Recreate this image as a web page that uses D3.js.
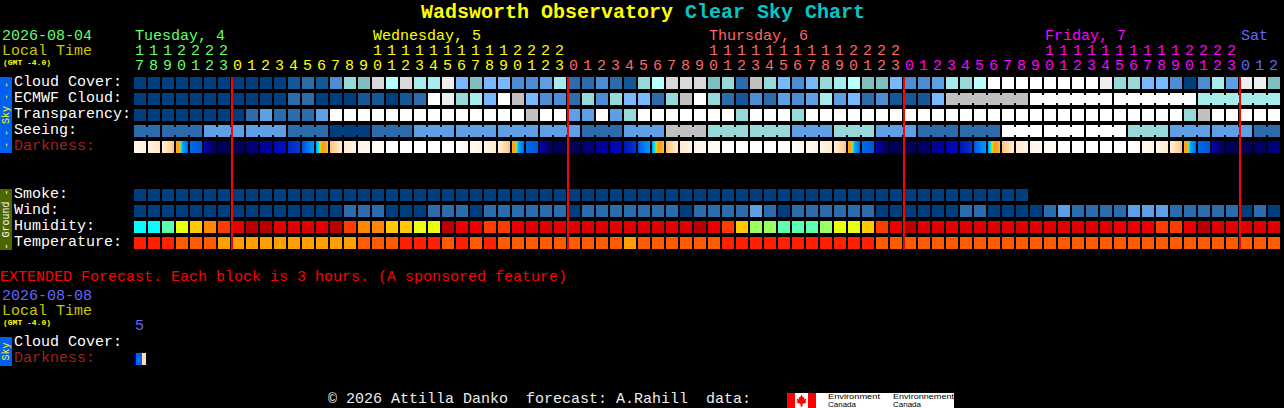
<!DOCTYPE html>
<html><head><meta charset="utf-8"><title>Wadsworth Observatory Clear Sky Chart</title>
<script src="https://cdn.jsdelivr.net/npm/d3@7/dist/d3.min.js"></script>
<style>
html,body{margin:0;padding:0;background:#000;overflow:hidden}
svg{display:block}
text{font-family:"Liberation Mono","DejaVu Sans Mono",monospace;white-space:pre}
rect{shape-rendering:crispEdges}
</style></head><body><svg id="c" width="1284" height="408"></svg>
<script>
// ---- data (sky values are level indices into skyColors) ----
const hours = [17,18,19,20,21,22,23,0,1,2,3,4,5,6,7,8,9,10,11,12,13,14,15,16,17,18,19,20,21,22,23,0,1,2,3,4,5,6,7,8,9,10,11,12,13,14,15,16,17,18,19,20,21,22,23,0,1,2,3,4,5,6,7,8,9,10,11,12,13,14,15,16,17,18,19,20,21,22,23,0,1,2];
const dayOfColumn = [0,0,0,0,0,0,0,1,1,1,1,1,1,1,1,1,1,1,1,1,1,1,1,1,1,1,1,1,1,1,1,2,2,2,2,2,2,2,2,2,2,2,2,2,2,2,2,2,2,2,2,2,2,2,2,3,3,3,3,3,3,3,3,3,3,3,3,3,3,3,3,3,3,3,3,3,3,3,3,4,4,4];
const dayNames = ["Tuesday, 4","Wednesday, 5","Thursday, 6","Friday, 7","Sat"];
const dayLabelColumn = [0,17,41,65,79];
const midnightColumns = [7,31,55,79];
const rowNames = ["Cloud Cover:","ECMWF Cloud:","Transparency:","Seeing:","Darkness:"];
const groundNames = ["Smoke:","Wind:","Humidity:","Temperature:"];

const cloudCover = [0,0,0,0,0,0,0,0,0,0,0,1,2,1,3,7,6,11,9,11,8,8,12,5,6,5,5,3,3,4,8,2,2,3,2,1,7,9,11,11,11,6,7,2,10,7,5,3,5,7,8,9,6,6,5,3,3,4,8,7,9,13,13,13,13,13,13,13,13,12,7,7,5,5,3,0,3,8,4,12,12,6];
const ecmwfCloud = [0,0,0,0,0,0,0,0,0,0,0,2,2,0,0,0,1,1,0,1,2,13,12,7,8,5,13,10,5,3,3,2,7,3,7,5,5,2,7,10,13,7,2,1,3,2,4,3,4,8,4,5,2,3,1,1,1,5,10,10,10,10,10,10,13,13,13,13,13,13,13,13,13,13,13,13,8,8,8,8,8,8];
const ecmwfBlockStarts = [58,64,70,76];
const transparency = [0,0,0,0,0,0,0,0,2,4,2,2,2,4,13,13,13,13,13,13,13,13,13,13,13,13,13,13,10,13,13,4,4,13,4,7,13,13,13,13,13,13,13,7,13,13,13,7,13,13,13,13,13,13,13,13,13,13,13,13,13,13,13,13,13,13,13,13,13,13,13,13,13,13,13,7,10,13,13,13,13,13];
const seeingBlockStarts = [0,2,5,8,11,14,17,20,23,26,29,32,35,38,41,44,47,50,53,56,59,62,65,68,71,74,77,80];
const seeingBlocks = [2,2,4,4,2,0,2,4,4,4,4,2,4,10,7,7,4,7,4,2,2,13,13,13,7,4,4,2];
const darknessStart = [8,12,16,36,60,72,97,100,92,78,72,68,63,50,32,18,10,5,0,0,0,0,0,0,6,10,16,36,60,72,97,100,92,78,74,70,62,50,32,18,10,5,0,0,0,0,0,2,6,10,16,36,60,72,97,100,95,80,74,70,62,50,32,18,10,5,0,0,0,0,0,1,6,10,16,36,60,72,97,100,96,88];
const darknessEnd   = [12,20,32,60,62,97,100,95,85,76,70,65,52,34,18,12,6,2,0,0,0,0,0,6,12,18,32,60,62,97,100,97,85,76,72,66,52,34,18,12,6,2,0,0,0,0,2,8,12,18,32,60,62,97,100,97,88,76,72,66,52,34,18,12,6,2,0,0,0,0,0,4,12,18,32,60,62,97,100,98,92,86];
const smoke = [0,0,0,0,0,0,0,0,0,0,0,0,0,0,0,0,0,0,0,0,0,0,0,0,0,0,0,0,0,0,0,0,0,0,0,0,0,0,0,0,0,0,0,0,0,0,0,0,0,0,0,0,0,0,0,0,0,0,0,0,0,0,0,0];
const wind = [0,0,0,0,0,0,0,0,0,0,0,0,0,0,0,2,2,2,0,0,0,2,2,2,0,2,2,2,2,2,2,0,2,2,2,2,2,2,2,0,2,2,2,2,4,2,0,2,2,2,2,2,2,0,0,0,0,0,0,2,2,0,0,0,0,2,4,2,2,2,2,4,4,4,2,2,2,2,2,0,2,0];
const humidity = [0,0,1,3,4,5,6,7,8,8,9,9,9,9,8,6,5,5,4,4,3,3,8,7,7,6,6,7,9,9,9,9,9,9,9,9,9,9,9,9,8,7,6,4,2,2,1,1,1,2,3,3,4,6,7,8,9,9,9,9,9,9,9,9,9,9,9,9,9,9,7,7,7,6,6,7,8,9,9,9,9,9];
const temperature = [0,0,0,1,1,1,2,2,2,2,2,2,2,2,2,2,1,1,1,0,0,0,1,0,1,0,1,1,1,1,1,1,1,1,1,2,1,1,1,1,1,1,0,0,0,0,0,0,0,0,0,0,0,1,1,1,1,1,1,1,1,1,1,1,1,1,1,1,1,1,1,1,1,1,1,1,1,1,1,1,1,1];
const extendedDarkness = [80,60,24];

// ---- palettes ----
const skyColors = ["#003f7f","#14589a","#2c6cac","#4d8dd6","#5f9fe6","#78b8ff","#7fbfbf","#97d9d9","#a6ecec","#b8ffff","#c0c0c0","#d9d9d9","#eeeeee","#ffffff"];
const humidityColors = ["#00ffff","#5cffb0","#9cff60","#e8ff10","#ffc800","#ff8800","#ff3c00","#ea0000","#b80000","#e00000"];
const temperatureColors = ["#ff2000","#ff5c00","#ffa000"];
const dayColors = ["#66ff66","#ffff00","#ff6666","#ff00ff","#6666ff"];

const svg = d3.select("#c");
const defs = svg.append("defs");
const sky = d3.scaleOrdinal(d3.range(skyColors.length), skyColors);
const hum = d3.scaleOrdinal(d3.range(humidityColors.length), humidityColors);
const tmp = d3.scaleOrdinal(d3.range(temperatureColors.length), temperatureColors);
const dark = d3.scaleLinear()
  .domain([0,10,20,30,38,42,44,46,50,55,60,65,70,75,80,90,100])
  .range(["#ffffff","#fff6e8","#ffe8c8","#ffcc88","#ffa020","#ffa000","#ffd000","#00f0f0","#00a0ff","#0088ff","#0066e8","#0040d0","#0010c0","#0000a8","#000090","#000070","#000058"])
  .clamp(true);

const x = d3.scaleBand(d3.range(hours.length), [134,1280]).paddingInner(2/14);
const ySky = d3.scaleBand(rowNames, [77,153]).paddingInner(.25);
const yGround = d3.scaleBand(groundNames, [189,249]).paddingInner(.25);
const bw = x.bandwidth();

function text(s, px, py, size, fill, opts){
  opts = opts||{};
  return svg.append("text").attr("x",px).attr("y",py).attr("font-size",size).attr("fill",fill)
    .attr("font-weight",opts.bold?"bold":null).text(s);
}
function cells(name, values, y, color){
  svg.append("g").attr("class",name).selectAll("rect").data(values).join("rect")
    .attr("x",(d,i)=>Math.round(x(i))).attr("y",y).attr("width",12).attr("height",bw).attr("fill",d=>color(d));
}
function necks(name, blocks, valueAt, y){
  const g = svg.append("g").attr("class",name+"-necks");
  blocks.forEach((s,b)=>{
    const e = b+1<blocks.length?blocks[b+1]:hours.length;
    d3.range(s,e-1).forEach(i=>{
      g.append("rect").attr("x",Math.round(x(i))+12).attr("y",y+2).attr("width",2).attr("height",bw-4).attr("fill",sky(valueAt(i)));
    });
  });
}

// ---- title and header ----
const title = svg.append("text").attr("x",421).attr("y",18).attr("font-size",20).attr("font-weight","bold").attr("fill","#ffff00");
title.append("tspan").text("Wadsworth Observatory ");
title.append("tspan").attr("fill","#00c8c8").text("Clear Sky Chart");

text("2026-08-04",2,40,15,"#66ff66");
text("Local Time",2,55,15,"#c8c800");
text("(GMT -4.0)",3,65,8,"#ffff00",{bold:true});
dayNames.forEach((n,i)=>text(n,x(dayLabelColumn[i])+1,40,15,dayColors[i]));
hours.forEach((h,i)=>{
  const c = dayColors[dayOfColumn[i]];
  if(h>=10) text(String(Math.floor(h/10)),x(i)+1,55,15,c);
  text(String(h%10),x(i)+1,70,15,c);
});

// ---- side bars ----
function sideBar(y0,y1,fill,label,color){
  svg.append("rect").attr("x",0).attr("y",y0).attr("width",12).attr("height",y1-y0).attr("fill",fill);
  svg.append("text").attr("transform",`translate(9,${(y0+y1)/2}) rotate(-90)`).attr("text-anchor","middle")
    .attr("font-size",10).attr("fill",color).text(label);
}
sideBar(77,153,"#0060f0","- - Sky - -","#ffff00");
sideBar(189,250,"#4d6600","- Ground -","#ffffff");
sideBar(337,366,"#0060f0","Sky","#ffff00");

// ---- row labels ----
rowNames.forEach(n=>text(n,14,ySky(n)+9,15,n==="Darkness:"?"#a02020":"#ffffff"));
groundNames.forEach(n=>text(n,14,yGround(n)+9,15,"#ffffff"));

// ---- sky rows ----
cells("cloud",cloudCover,ySky("Cloud Cover:"),sky);
cells("ecmwf",ecmwfCloud,ySky("ECMWF Cloud:"),sky);
necks("ecmwf",ecmwfBlockStarts,i=>ecmwfCloud[i],ySky("ECMWF Cloud:"));
cells("transparency",transparency,ySky("Transparency:"),sky);
const seeing = hours.map((h,i)=>seeingBlocks[d3.bisectRight(seeingBlockStarts,i)-1]);
cells("seeing",seeing,ySky("Seeing:"),sky);
necks("seeing",seeingBlockStarts,i=>seeing[i],ySky("Seeing:"));

// darkness cells: horizontal ramp from the value at the start to the value at the end of the hour
darknessStart.forEach((s,i)=>{
  const e = darknessEnd[i], id="dk"+i;
  const g = defs.append("linearGradient").attr("id",id);
  const v = d3.scaleLinear([0,1],[s,e]);
  d3.range(0,1.0001,1/12).forEach(t=>g.append("stop").attr("offset",t).attr("stop-color",dark(v(t))));
  svg.append("rect").attr("x",Math.round(x(i))).attr("y",ySky("Darkness:")).attr("width",12).attr("height",bw).attr("fill",`url(#${id})`);
});

// ---- ground rows ----
cells("smoke",smoke,yGround("Smoke:"),sky);
cells("wind",wind,yGround("Wind:"),sky);
cells("humidity",humidity,yGround("Humidity:"),hum);
cells("temperature",temperature,yGround("Temperature:"),tmp);

// ---- midnight lines ----
svg.append("g").selectAll("rect").data(midnightColumns).join("rect")
  .attr("x",d=>Math.round(x(d))-1).attr("y",77).attr("width",2).attr("height",173).attr("fill","#ff0000");

// ---- extended forecast ----
text("EXTENDED Forecast. Each block is 3 hours. (A sponsored feature)",0,281,15,"#ff0000");
text("2026-08-08",2,300,15,"#6666ff");
text("Local Time",2,315,15,"#c8c800");
text("(GMT -4.0)",3,325,8,"#ffff00",{bold:true});
text("5",135,330,15,"#6666ff");
text("Cloud Cover:",14,346,15,"#ffffff");
text("Darkness:",14,362,15,"#a02020");
const ext = d3.scaleLinear([0,6],[134,146]);
[[0,1],[1,4],[4,6]].forEach(([a,b],i)=>{
  svg.append("rect").attr("x",ext(a)).attr("y",353).attr("width",ext(b)-ext(a)).attr("height",12).attr("fill",dark(extendedDarkness[i]));
});

// ---- footer ----
text("\u00a9 2026 Attilla Danko  forecast: A.Rahill  data:",328,403,15,"#eeeeee");
svg.append("rect").attr("x",787).attr("y",393).attr("width",167).attr("height",15).attr("fill","#ffffff");
svg.append("rect").attr("x",787).attr("y",393).attr("width",8).attr("height",15).attr("fill","#ff0000");
svg.append("rect").attr("x",808).attr("y",393).attr("width",8).attr("height",15).attr("fill","#ff0000");
svg.append("path").attr("transform","translate(801.5,400.5)").attr("fill","#ff0000")
  .attr("d","M0,-6L1.5,-3L3,-3.5L2.5,-1L5,-2L4,1L5,2L1,3.5L1,6L-1,6L-1,3.5L-5,2L-4,1L-5,-2L-2.5,-1L-3,-3.5L-1.5,-3Z");
[["Environment",828,399,52],["Canada",828,407,28],["Environnement",893,399,61],["Canada",893,407,28]].forEach(d=>{
  svg.append("text").attr("x",d[1]).attr("y",d[2]).attr("font-size",7).attr("fill","#000")
    .attr("textLength",d[3]).attr("lengthAdjust","spacingAndGlyphs").style("font-family","'Liberation Sans'").text(d[0]);
});
</script></body></html>
